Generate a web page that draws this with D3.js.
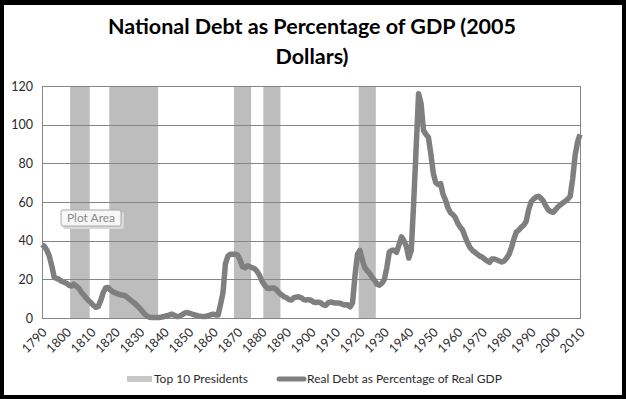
<!DOCTYPE html>
<html>
<head>
<meta charset="utf-8">
<script src="https://cdnjs.cloudflare.com/ajax/libs/d3/7.8.5/d3.min.js"></script>
<style>
  body { margin: 0; background: #000; }
  svg { display: block; }
  text { font-family: Lato, "Open Sans", sans-serif; }
</style>
</head>
<body>
<div id="chart"></div>
<script>
// años de la serie y valores (deuda real / PIB real, %)
const years = d3.range(1790, 2011)
const debtValues = [
  38, 37, 35, 32, 27, 21, 20.5, 20, 19, 18.5,          // 1790-1799
  18, 17, 16.5, 17.5, 16.5, 15.5, 13.5, 12, 10.5, 9,   // 1800-1809
  8, 6.5, 5.5, 6, 9, 13, 15.5, 15.8, 14.5, 13.5,       // 1810-1819
  13, 12.5, 12, 11.8, 11.5, 10.5, 9.5, 8.5, 7.5, 6.2,  // 1820-1829
  5, 3.5, 2, 1, 0.4, 0.3, 0.2, 0.2, 0.3, 0.5,          // 1830-1839
  0.8, 1.2, 1.5, 2, 1.5, 0.8, 0.8, 1.5, 2.3, 2.8,      // 1840-1849
  2.6, 2.2, 1.8, 1.4, 1.1, 0.9, 0.8, 0.8, 1.2, 1.6,    // 1850-1859
  2, 1.6, 1.5, 7, 13, 28, 32, 33, 33, 33,              // 1860-1869
  32.5, 30, 26.5, 26, 27, 26.5, 26, 25.5, 24, 22,      // 1870-1879
  19, 17, 15.5, 15.3, 15.5, 15.5, 14.5, 13, 12, 11,    // 1880-1889
  10.5, 9.5, 9.3, 10.5, 10.8, 11, 10.5, 9.5, 9.3, 9.5, // 1890-1899
  9.2, 8.3, 8, 8.2, 7.8, 6.8, 6.5, 7.8, 8.3, 8,        // 1900-1909
  7.8, 7.7, 7.6, 7, 6.7, 6.8, 5.8, 8, 22, 33,          // 1910-1919
  35, 30, 26, 24.5, 23, 21, 19.5, 17.5, 17, 18,        // 1920-1929
  20, 26, 34, 35, 35, 34, 38, 42, 40, 37,              // 1930-1939
  31, 35, 60, 88, 116, 111, 97, 95, 93.5, 85,          // 1940-1949
  75, 70, 69, 69.5, 64, 61, 57, 54.5, 53.5, 52,        // 1950-1959
  49, 47, 45.5, 42, 39, 36.5, 35, 34, 33, 32,          // 1960-1969
  31.5, 30.5, 29.5, 28.8, 30.5, 30.5, 30, 29.5, 29, 29.5, // 1970-1979
  31, 33, 36.5, 41, 44.5, 45.5, 47, 48, 50, 56,        // 1980-1989
  60, 61.5, 62.5, 63, 62, 60.5, 58, 56, 55, 54.7,      // 1990-1999
  56, 57.5, 58.5, 59.5, 60.5, 61.5, 63, 72, 84, 91,    // 2000-2009
  95                                                   // 2010
]

// mandatos de los "Top 10 Presidents" (primer y último año sombreado)
const presidentTerms = [
  [1802, 1809],
  [1818, 1837],
  [1869, 1875],
  [1881, 1887],
  [1920, 1926],
]

const yTicks = [0, 20, 40, 60, 80, 100, 120]
const xTickYears = d3.range(1790, 2011, 10)

const titleLines = ['National Debt as Percentage of GDP (2005', 'Dollars)']
const legendLabels = ['Top 10 Presidents', 'Real Debt as Percentage of Real GDP']

const config = {
  width: 626,
  height: 399,
  plot: { left: 42, right: 580, top: 86, bottom: 318 },
  lineColor: '#7f7f7f',
  barColor: '#bdbdbd',
  gridColor: '#868686',
  textColor: '#2a2a2a',
}

const svg = d3.select('#chart')
  .append('svg')
  .attr('width', config.width)
  .attr('height', config.height)

// marco negro y fondo blanco del gráfico
svg.append('rect')
  .attr('width', config.width).attr('height', config.height)
  .attr('fill', '#000')
svg.append('rect')
  .attr('x', 4).attr('y', 5)
  .attr('width', 618).attr('height', 390)
  .attr('fill', '#fff')

const x = d3.scaleLinear()
  .domain([1790, 2010])
  .range([config.plot.left, config.plot.right])

const y = d3.scaleLinear()
  .domain([0, 120])
  .range([config.plot.bottom, config.plot.top])

const step = x(1791) - x(1790)

// título
svg.append('g')
  .selectAll('text')
  .data(titleLines)
  .enter()
  .append('text')
  .attr('x', 312)
  .attr('y', (d, i) => 34 + i * 30)
  .attr('text-anchor', 'middle')
  .style('font-size', '21.5px')
  .style('font-weight', 'bold')
  .attr('fill', '#000')
  .text(d => d)

// barras de presidentes
svg.append('g')
  .selectAll('rect')
  .data(presidentTerms)
  .enter()
  .append('rect')
  .attr('x', d => x(d[0]) - step / 2)
  .attr('width', d => x(d[1]) - x(d[0]) + step)
  .attr('y', y(120))
  .attr('height', y(0) - y(120))
  .attr('fill', config.barColor)

// líneas de cuadrícula
svg.append('g')
  .attr('transform', `translate(${config.plot.left},0)`)
  .call(d3.axisLeft(y).tickValues(yTicks).tickSize(-(config.plot.right - config.plot.left)).tickFormat(''))
  .call(g => g.select('.domain').remove())
  .selectAll('line')
  .attr('stroke', config.gridColor)
  .attr('shape-rendering', 'crispEdges')

// borde del área de trazado
svg.append('rect')
  .attr('x', config.plot.left)
  .attr('y', config.plot.top)
  .attr('width', config.plot.right - config.plot.left)
  .attr('height', config.plot.bottom - config.plot.top)
  .attr('fill', 'none')
  .attr('stroke', config.gridColor)
  .attr('shape-rendering', 'crispEdges')

// etiquetas del eje Y
svg.append('g')
  .attr('transform', `translate(${config.plot.left},0)`)
  .call(d3.axisLeft(y).tickValues(yTicks).tickSize(0).tickPadding(9))
  .call(g => g.select('.domain').remove())
  .selectAll('text')
  .style('font-size', '12.5px')
  .style('font-family', 'Lato, sans-serif')
  .attr('fill', config.textColor)

// etiquetas del eje X (rotadas)
svg.append('g')
  .attr('transform', `translate(0,${config.plot.bottom})`)
  .call(d3.axisBottom(x).tickValues(xTickYears).tickSize(0).tickFormat(d3.format('d')))
  .call(g => g.select('.domain').remove())
  .selectAll('text')
  .style('font-size', '12.5px')
  .style('font-family', 'Lato, sans-serif')
  .attr('fill', config.textColor)
  .attr('text-anchor', 'end')
  .attr('dy', 0)
  .attr('transform', 'translate(3,13) rotate(-45)')

// serie de deuda
const line = d3.line()
  .x((d, i) => x(years[i]))
  .y(d => y(d))

svg.append('path')
  .datum(debtValues)
  .attr('d', line)
  .attr('fill', 'none')
  .attr('stroke', config.lineColor)
  .attr('stroke-width', 5.5)
  .attr('stroke-linejoin', 'round')

// etiqueta "Plot Area" que aparece en la captura
const tip = svg.append('g').attr('transform', 'translate(61,210)')
tip.append('rect')
  .attr('x', 2).attr('y', 2).attr('width', 61).attr('height', 17).attr('rx', 2)
  .attr('fill', '#d9d9d9')
tip.append('rect')
  .attr('width', 60).attr('height', 16).attr('rx', 2)
  .attr('fill', '#f7f7f7').attr('stroke', '#a8a8a8')
tip.append('text')
  .attr('x', 30).attr('y', 12)
  .attr('text-anchor', 'middle')
  .style('font-size', '12px')
  .attr('fill', '#8a8a8a')
  .text('Plot Area')

// leyenda
const legend = svg.append('g')
legend.append('rect')
  .attr('x', 127).attr('y', 376).attr('width', 25).attr('height', 6)
  .attr('fill', '#c8c8c8')
legend.append('line')
  .attr('x1', 279).attr('x2', 304).attr('y1', 379).attr('y2', 379)
  .attr('stroke', config.lineColor).attr('stroke-width', 5).attr('stroke-linecap', 'round')
legend.selectAll('text')
  .data(legendLabels)
  .enter()
  .append('text')
  .attr('x', (d, i) => i === 0 ? 154 : 307)
  .attr('y', 383)
  .style('font-size', '12px')
  .attr('fill', config.textColor)
  .text(d => d)
</script>
</body>
</html>
